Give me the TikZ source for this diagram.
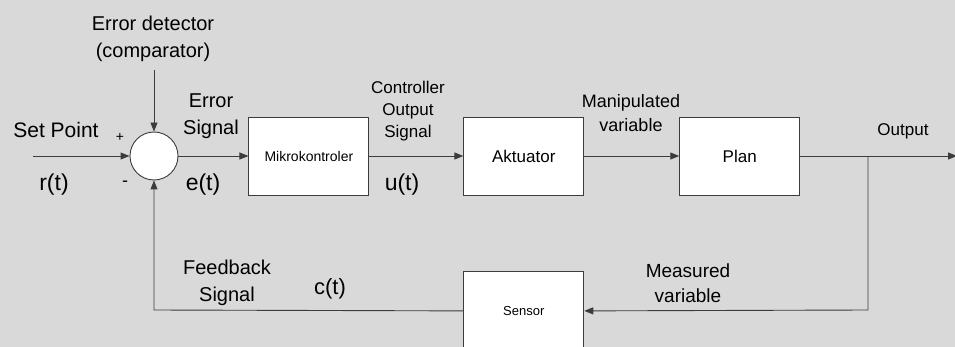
\documentclass[tikz,border=0pt]{standalone}
\usepackage{fontspec}
\setmainfont{Liberation Sans}
\usepackage{tikz}
\usetikzlibrary{arrows.meta, positioning}
\definecolor{bggray}{RGB}{217,217,217}
\definecolor{linegray}{RGB}{60,60,60}
\tikzstyle{block} = [rectangle, minimum width=120pt, minimum height=78pt, align=center, inner sep=2pt, draw=linegray, line width=0.9pt, fill=white]
\tikzstyle{summer} = [circle, minimum size=48pt, inner sep=0pt, draw=linegray, line width=0.9pt, fill=white]
\tikzstyle{arrow} = [line width=0.9pt, draw=linegray, -{Triangle[length=9pt,width=7pt]}]
\tikzstyle{wire} = [line width=0.9pt, draw=linegray]
\tikzstyle{lbl} = [align=center, inner sep=0pt, font=\fontsize{20}{27}\selectfont]
\tikzstyle{sig} = [inner sep=0pt, font=\fontsize{23}{27}\selectfont]

\begin{document}
\begin{tikzpicture}[x=1pt, y=-1pt, node distance=70pt and 70pt]
  % Latar
  \fill[bggray] (0,0) rectangle (955,347);
  \useasboundingbox (0,0) rectangle (955,347);

  % Baris atas
  \node[summer] (sum) at (154,156) {};
  \node[block, font=\fontsize{14}{17}\selectfont, right=70pt of sum] (mikro) {Mikrokontroler};
  \node[block, font=\fontsize{17}{20}\selectfont, right=94pt of mikro] (aktuator) {Aktuator};
  \node[block, font=\fontsize{17}{20}\selectfont, right=95pt of aktuator] (plan) {Plan};

  % Baris bawah
  \node[block, font=\fontsize{13}{16}\selectfont, below=76pt of aktuator] (sensor) {Sensor};

  % Ujung bebas
  \coordinate (input) at (33,156);
  \coordinate (detector_in) at (154,70);
  \coordinate (output) at (957,156);
  \coordinate (cabang) at (868,156);
  \coordinate (cabang_bawah) at (868,310);
  \coordinate (balik) at (154,310);

  % Label
  \node[lbl] (detector) at (153,39) {Error detector\\(comparator)};
  \node[lbl, font=\fontsize{21}{27}\selectfont] (setpoint) at (56,130) {Set Point};
  \node[lbl, font=\fontsize{14}{17}\selectfont] (plus) at (120,137) {+};
  \node[lbl, font=\fontsize{18}{20}\selectfont] (minus) at (125,184) {-};
  \node[sig] (rt) at (54,185) {r(t)};
  \node[lbl] (errsig) at (211,116) {Error\\Signal};
  \node[sig] (et) at (203,185) {e(t)};
  \node[lbl, font=\fontsize{17}{22}\selectfont] (ctrlout) at (408,111) {Controller\\Output\\Signal};
  \node[sig] (ut) at (402,185) {u(t)};
  \node[lbl, font=\fontsize{18}{24}\selectfont] (manip) at (631,113) {Manipulated\\variable};
  \node[lbl, font=\fontsize{17}{20}\selectfont] (outlbl) at (903,131) {Output};
  \node[lbl] (fbsig) at (227,283) {Feedback\\Signal};
  \node[sig, font=\fontsize{22}{27}\selectfont] (ct) at (330,289) {c(t)};
  \node[lbl, font=\fontsize{19}{25}\selectfont] (measured) at (688,283) {Measured\\variable};

  % Panah maju
  \draw[arrow] (input) -- (sum.west);
  \draw[arrow] (detector_in) -- (sum.north);
  \draw[arrow] (sum.east) -- (mikro.west);
  \draw[arrow] (mikro.east) -- (aktuator.west);
  \draw[arrow] (aktuator.east) -- (plan.west);
  \draw[arrow] (plan.east) -- (output);

  % Umpan balik
  \draw[arrow] (cabang) -- (cabang_bawah) -- (sensor.east);
  \draw[arrow] (sensor.west) -- (balik) -- (sum.south);
\end{tikzpicture}
\end{document}
